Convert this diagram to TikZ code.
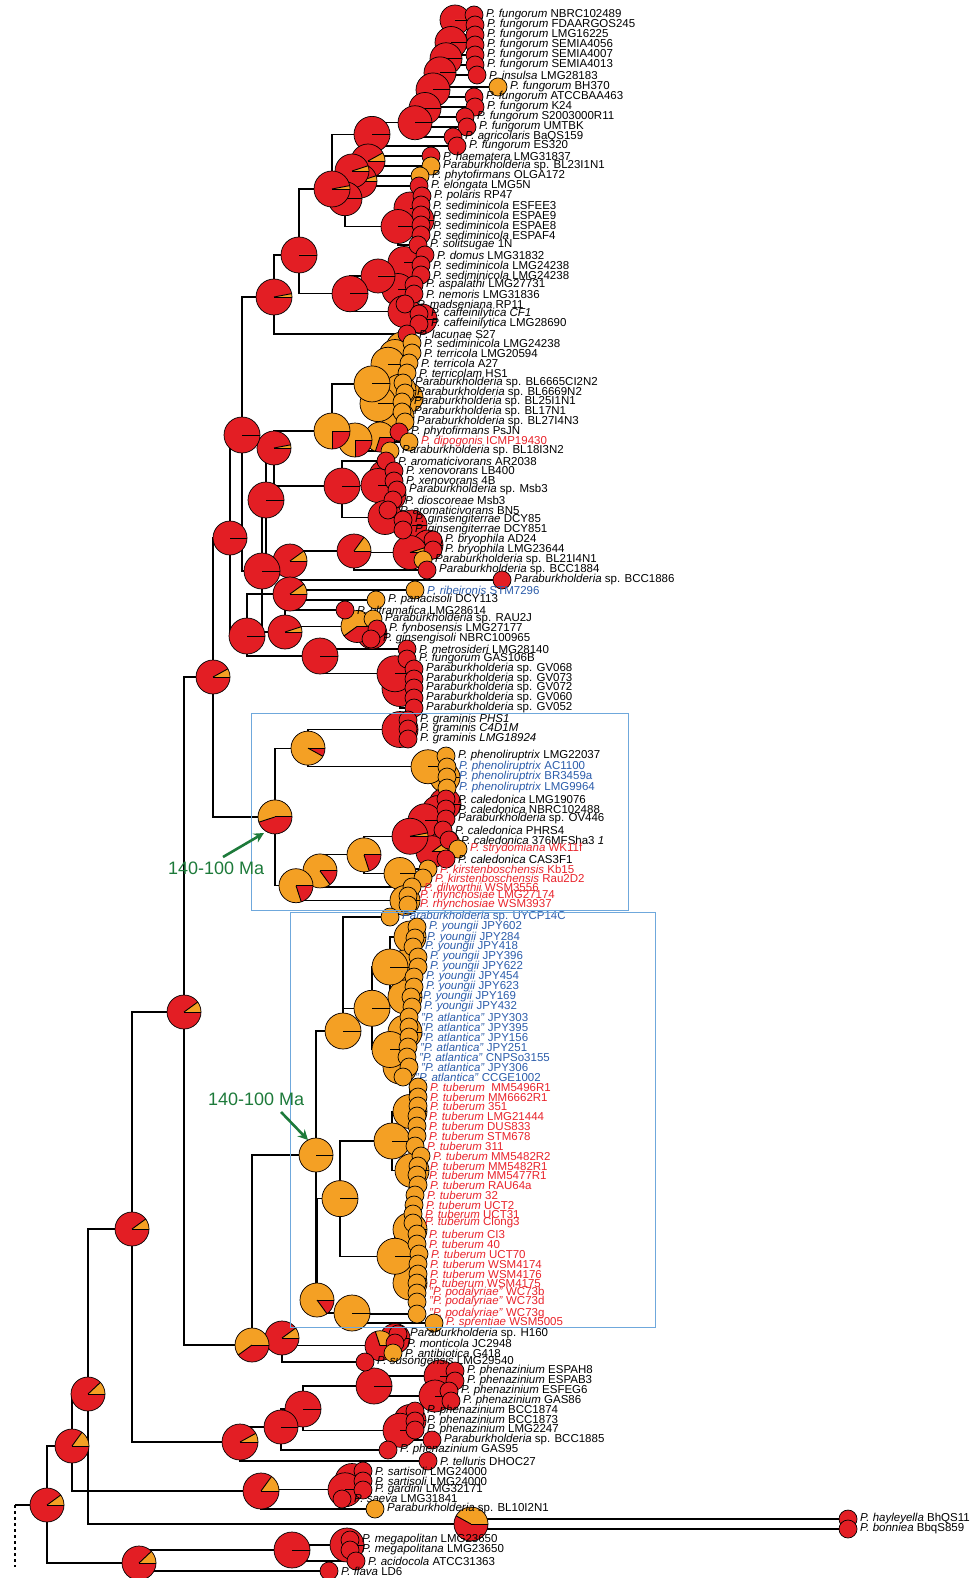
\documentclass[tikz,border=0pt]{standalone}
\usepackage{fontspec}
\setmainfont{Liberation Sans}
\usetikzlibrary{arrows.meta}

\definecolor{pr}{HTML}{E31E24}
\definecolor{po}{HTML}{F4A024}
\definecolor{lk}{HTML}{000000}
\definecolor{lb}{HTML}{2B5CAA}
\definecolor{lr}{HTML}{E8232B}
\definecolor{boxblue}{HTML}{6FA8DC}
\definecolor{agreen}{HTML}{1D7A3A}

\tikzset{
  edge/.style={line width=1.2pt},
  tip/.style={circle, draw, line width=0.7pt, minimum size=18pt, inner sep=0pt},
  lab/.style={anchor=west, inner sep=0pt, font=\fontsize{11.5}{12}\selectfont},
  agetext/.style={anchor=west, inner sep=0pt, text=agreen, font=\fontsize{18}{20}\selectfont},
  agearrow/.style={agreen, line width=2.6pt, -{Stealth[length=10pt,width=10pt]}},
  clade box/.style={draw=boxblue, line width=1pt}
}

% ancestral state pie: name, radius, orange share
\newcommand{\ancpie}[3]{%
  \fill[pr] (#1) circle[radius=#2pt];
  \fill[po] (#1) -- ++(#2pt,0pt) arc[start angle=0, end angle={360*#3}, radius=#2pt] -- cycle;
  \draw[line width=0.9pt] (#1) -- ++(#2pt,0pt);
  \draw[line width=0.9pt] (#1) -- ++({360*#3}:#2pt);
  \draw[line width=0.7pt] (#1) circle[radius=#2pt];
}

% number/y/label x/tip colour/label colour/species/strain
\def\leaflist{
1/15/486/pr/lk/P. fungorum/NBRC102489,
2/25/487/pr/lk/P. fungorum/FDAARGOS245,
3/35/487/pr/lk/P. fungorum/LMG16225,
4/45/487/pr/lk/P. fungorum/SEMIA4056,
5/55/487/pr/lk/P. fungorum/SEMIA4007,
6/65/487/pr/lk/P. fungorum/SEMIA4013,
7/75/489/pr/lk/P. insulsa/LMG28183,
8/87/510/po/lk/P. fungorum/BH370,
9/97/486/pr/lk/P. fungorum/ATCCBAA463,
10/107/487/pr/lk/P. fungorum/K24,
11/117/477/pr/lk/P. fungorum/S2003000R11,
12/127/479/pr/lk/P. fungorum/UMTBK,
13/137/465/pr/lk/P. agricolaris/BaQS159,
14/146/469/pr/lk/P. fungorum/ES320,
15/156/443/pr/lk/P. haematera/LMG31837,
16/166/443/po/lk/Paraburkholderia/sp. BL23I1N1,
17/176/432/po/lk/P. phytofirmans/OLGA172,
18/186/431/pr/lk/P. elongata/LMG5N,
19/196/434/pr/lk/P. polaris/RP47,
20/205/433/pr/lk/P. sediminicola/ESFEE3,
21/215/433/pr/lk/P. sediminicola/ESPAE9,
22/225/433/pr/lk/P. sediminicola/ESPAE8,
23/235/433/pr/lk/P. sediminicola/ESPAF4,
24/245/430/pr/lk/P. solitsugae/1N,
25/255/437/pr/lk/P. domus/LMG31832,
26/265/433/pr/lk/P. sediminicola/LMG24238,
27/275/433/pr/lk/P. sediminicola/LMG24238,
28/285/426/pr/lk/P. aspalathi/LMG27731,
29/294/426/pr/lk/P. nemoris/LMG31836,
30/304/417/pr/lk/P. madseniana/RP11,
31/314/431/pr/lk/P. caffeinilytica CF1/{},
32/324/431/pr/lk/P. caffeinilytica/LMG28690,
33/334/419/pr/lk/P. lacunae/S27,
34/343/424/po/lk/P. sediminicola/LMG24238,
35/353/424/po/lk/P. terricola/LMG20594,
36/363/421/po/lk/P. terricola/A27,
37/373/419/po/lk/P. terricolam/HS1,
38/383/415/po/lk/Paraburkholderia/sp. BL6665CI2N2,
39/393/417/po/lk/Paraburkholderia/sp. BL6669N2,
40/402/414/po/lk/Paraburkholderia/sp. BL25I1N1,
41/412/414/po/lk/Paraburkholderia/sp. BL17N1,
42/422/417/po/lk/Paraburkholderia/sp. BL27I4N3,
43/432/411/pr/lk/P. phytofirmans/PsJN,
44/442/421/po/lr/P. dipogonis/ICMP19430,
45/451/402/po/lk/Paraburkholderia/sp. BL18I3N2,
46/461/398/pr/lk/P. aromaticivorans/AR2038,
47/471/406/pr/lk/P. xenovorans/LB400,
48/481/406/pr/lk/P. xenovorans/4B,
49/490/409/pr/lk/Paraburkholderia/sp. Msb3,
50/500/405/pr/lk/P. dioscoreae/Msb3,
51/510/400/pr/lk/P. aromaticivorans/BN5,
52/520/415/pr/lk/P. ginsengiterrae/DCY85,
53/530/415/pr/lk/P. ginsengiterrae/DCY851,
54/540/445/pr/lk/P. bryophila/AD24,
55/550/445/pr/lk/P. bryophila/LMG23644,
56/560/435/po/lk/Paraburkholderia/sp. BL21I4N1,
57/570/439/pr/lk/Paraburkholderia/sp. BCC1884,
58/580/514/pr/lk/Paraburkholderia/sp. BCC1886,
59/590/427/po/lb/P. ribeironis/STM7296,
60/600/388/po/lk/P. panacisoli/DCY113,
61/610/357/pr/lk/P. ultramafica/LMG28614,
62/619/385/po/lk/Paraburkholderia/sp. RAU2J,
63/629/389/pr/lk/P. fynbosensis/LMG27177,
64/639/383/pr/lk/P. ginsengisoli/NBRC100965,
65/649/419/pr/lk/P. metrosideri/LMG28140,
66/659/419/pr/lk/P. fungorum/GAS106B,
67/669/426/pr/lk/Paraburkholderia/sp. GV068,
68/679/426/pr/lk/Paraburkholderia/sp. GV073,
69/688/426/pr/lk/Paraburkholderia/sp. GV072,
70/698/426/pr/lk/Paraburkholderia/sp. GV060,
71/708/426/pr/lk/Paraburkholderia/sp. GV052,
72/720/420/pr/lk/P. graminis PHS1/{},
73/729/420/pr/lk/P. graminis C4D1M/{},
74/739/420/pr/lk/P. graminis LMG18924/{},
75/756/458/po/lk/P. phenoliruptrix/LMG22037,
76/767/459/po/lb/P. phenoliruptrix/AC1100,
77/777/459/po/lb/P. phenoliruptrix/BR3459a,
78/788/459/po/lb/P. phenoliruptrix/LMG9964,
79/799/458/pr/lk/P. caledonica/LMG19076,
80/809/458/pr/lk/P. caledonica/NBRC102488,
81/819/458/pr/lk/Paraburkholderia/sp. OV446,
82/830/455/pr/lk/P. caledonica/PHRS4,
83/840/461/pr/lk/P. caledonica/{376MFSha3 \textit{1}},
84/849/470/po/lr/P. strydomiana/WK11f,
85/859/458/pr/lk/P. caledonica/CAS3F1,
86/869/440/po/lr/P. kirstenboschensis/Kb15,
87/878/435/po/lr/P. kirstenboschensis/Rau2D2,
88/887/424/po/lr/P. dilworthii/WSM3556,
89/896/420/po/lr/P. rhynchosiae/LMG27174,
90/905/420/po/lr/P. rhynchosiae/WSM3937,
91/917/402/po/lb/Paraburkholderia/sp. UYCP14C,
92/927/429/po/lb/P. youngii/JPY602,
93/938/427/po/lb/P. youngii/JPY284,
94/947/425/po/lb/P. youngii/JPY418,
95/957/430/po/lb/P. youngii/JPY396,
96/967/430/po/lb/P. youngii/JPY622,
97/977/426/po/lb/P. youngii/JPY454,
98/987/426/po/lb/P. youngii/JPY623,
99/997/423/po/lb/P. youngii/JPY169,
100/1007/424/po/lb/P. youngii/JPY432,
101/1017/421/po/lb/"P. atlantica"/JPY303,
102/1027/421/po/lb/"P. atlantica"/JPY395,
103/1037/421/po/lb/"P. atlantica"/JPY156,
104/1047/420/po/lb/"P. atlantica"/JPY251,
105/1057/419/po/lb/"P. atlantica"/CNPSo3155,
106/1067/421/po/lb/"P. atlantica"/JPY306,
107/1077/415/po/lb/"P. atlantica"/CCGE1002,
108/1087/430/po/lr/P. tuberum/{\ MM5496R1},
109/1097/430/po/lr/P. tuberum/MM6662R1,
110/1106/430/po/lr/P. tuberum/351,
111/1116/429/po/lr/P. tuberum/LMG21444,
112/1126/429/po/lr/P. tuberum/DUS833,
113/1136/429/po/lr/P. tuberum/STM678,
114/1146/427/po/lr/P. tuberum/311,
115/1156/433/po/lr/P. tuberum/MM5482R2,
116/1166/430/po/lr/P. tuberum/MM5482R1,
117/1175/429/po/lr/P. tuberum/MM5477R1,
118/1185/430/po/lr/P. tuberum/RAU64a,
119/1195/427/po/lr/P. tuberum/32,
120/1205/426/po/lr/P. tuberum/UCT2,
121/1214/425/po/lr/P. tuberum/UCT31,
122/1223/425/po/lr/P. tuberum/Clong3,
123/1234/429/po/lr/P. tuberum/CI3,
124/1244/429/po/lr/P. tuberum/40,
125/1254/431/po/lr/P. tuberum/UCT70,
126/1264/430/po/lr/P. tuberum/WSM4174,
127/1274/430/po/lr/P. tuberum/WSM4176,
128/1283/429/po/lr/P. tuberum/WSM4175,
129/1293/429/po/lr/"P. podalyriae"/WC73b,
130/1302/429/po/lr/"P. podalyriae"/WC73d,
131/1314/429/po/lr/"P. podalyriae"/WC73g,
132/1323/446/po/lr/P. sprentiae/WSM5005,
133/1334/410/pr/lk/Paraburkholderia/sp. H160,
134/1343/407/pr/lk/P. monticola/JC2948,
135/1353/405/po/lk/P. antibiotica/G418,
136/1362/377/pr/lk/P. susongensis/LMG29540,
137/1371/467/pr/lk/P. phenazinium/ESPAH8,
138/1381/467/pr/lk/P. phenazinium/ESPAB3,
139/1391/461/pr/lk/P. phenazinium/ESFEG6,
140/1401/463/pr/lk/P. phenazinium/GAS86,
141/1411/427/pr/lk/P. phenazinium/BCC1874,
142/1421/427/pr/lk/P. phenazinium/BCC1873,
143/1430/427/pr/lk/P. phenazinium/LMG2247,
144/1440/444/pr/lk/Paraburkholderia/sp. BCC1885,
145/1450/400/pr/lk/P. phenazinium/GAS95,
146/1461/440/pr/lk/P. telluris/DHOC27,
147/1471/375/pr/lk/P. sartisoli/LMG24000,
148/1481/375/pr/lk/P. sartisoli/LMG24000,
149/1490/375/pr/lk/P. gardini/LMG32171,
150/1499/354/pr/lk/P. saeva/LMG31841,
151/1509/387/po/lk/Paraburkholderia/sp. BL10I2N1,
152/1519/860/pr/lk/P. hayleyella/BhQS11,
153/1529/860/pr/lk/P. bonniea/BbqS859,
154/1540/362/pr/lk/P. megapolitan/LMG23650,
155/1550/362/pr/lk/P. megapolitana/LMG23650,
156/1561/368/pr/lk/P. acidocola/ATCC31363,
157/1571/341/pr/lk/P. flava/LD6}

% node/x/first child/last child/radius/orange share/y (0 = halfway)
\def\cladelist{
f1/455/l1/l2/15/0/0, f2/451/f1/l6/16/0/0, f3/446/f2/l7/16/0/0, f4/440/f3/l8/16/0/0,
f5/433/f4/l10/17/0/0, f6/425/f5/l12/16/0/0, f7/415/f6/l13/17/0/0, f8/372/f7/l14/18/0/0,
h1/368/l15/l16/17/.08/0, h2/360/l17/l18/17/.05/0, h3/352/h1/h2/17/.05/0,
s1/418/l20/l23/16/0/0, s2/410/l19/s1/16/0/0, s3/398/s2/l24/17/0/0,
q1/345/h3/s3/17/0/0, g1/332/f8/q1/18/.03/189,
d1/412/l26/l27/15/0/0, d2/404/l25/d1/16/0/0, d3/398/l28/l29/16/0/0, d4/378/d2/d3/17/0/0,
c1/422/l31/l32/15/0/0, c2/404/l30/c1/16/0/0, d5/350/d4/c2/18/0/0,
g2/299/g1/d5/18/0/255, g3/274/g2/l33/18/.03/297,
o1/402/l34/l35/16/1/0, o2/395/o1/l36/16/1/0, o3/388/o2/l37/17/1/0,
o4/408/l39/l40/15/1/0, o5/400/l38/o4/16/1/0, o6/398/l41/l42/16/1/0,
o7/378/o5/o6/18/1/0, o8/372/o3/o7/18/1/0, o9/380/l43/l44/15/.7/0,
o10/355/o9/l45/17/.75/440, o11/332/o8/o10/18/.75/431,
x1/385/l47/l48/16/0/0, x2/390/l49/l50/16/0/0, x3/378/x1/x2/17/0/0,
gi/412/l52/l53/15/0/0, x5/385/l51/gi/17/0/0, x4/342/l46/x5/18/0/486,
k1/274/o11/x4/17/.03/448,
b1/428/l54/l55/15/0/0, b2/410/b1/l56/17/.05/0, b3/354/b2/l57/17/.15/551,
bry/290/b3/l58/17/.1/561, n264/266/k1/bry/18/0/500,
p1/372/l63/l64/15/0/0, p2/357/l62/p1/16/.6/0, p3/285/l61/p2/17/.05/632,
n265/262/n264/p3/18/0/571, m1/242/g3/n265/18/0/435,
p5/290/l59/l60/17/.1/594,
v1/400/l67/l71/18/0/0, v2/395/l66/v1/18/0/0, v3/320/l65/v2/18/0/656,
m2/247/p5/v3/18/0/636, m3/230/m1/m2/17/0/538,
gr1/400/l72/l74/18/0/0, ph1/445/l76/l78/15/1/0, ph2/428/l75/ph1/17/1/0,
bx1/308/gr1/ph2/17/.92/0,
ca1/445/l79/l80/16/0/0, ca2/438/ca1/l81/16/0/0, ca3/425/ca2/l82/17/0/0,
ca4/445/l83/l84/15/.2/0, ca5/432/ca4/l85/16/.1/0, cal/410/ca3/ca5/18/.03/0,
ki1/400/l86/l87/16/1/0, md1/364/cal/ki1/17/.8/0, md2/320/md1/l88/17/.85/0,
rh1/405/l89/l90/15/1/0, bx3/296/md2/rh1/17/.8/0,
bxr/275/bx1/bx3/17/.55/0, fF/213/m3/bxr/17/.08/677,
y1/410/l92/l94/16/1/0, y2/405/l95/l97/17/1/0, y3/405/l98/l100/17/1/0, y4/390/y1/y3/18/1/0,
a1/405/l101/l104/17/1/0, a2/400/l105/l107/17/1/0, a3/390/a1/a2/18/1/0,
ya/372/y4/a3/18/1/0, up/343/l91/ya/18/1/1031,
t1/410/l108/l113/17/1/0, t2/412/l114/l119/17/1/0, t3/410/l120/l125/17/1/0, t4/410/l126/l130/17/1/0,
t5/392/t1/t2/18/1/0, t6/395/t3/t4/18/1/0, t7/340/t5/t6/18/1/0,
sp/352/l131/l132/18/1/1313, low/317/t7/sp/17/.85/1300,
b2r/316/up/low/17/1/1155,
hh1/395/l133/l134/15/0/0, hh2/380/hh1/l135/15/.3/0, hh3/282/hh2/l136/17/.1/1338,
nE/252/b2r/hh3/17/.6/1345, eE/184/fF/nE/17/.1/1012,
pz1/440/l137/l138/16/0/0, pz2/435/l139/l140/16/0/0, pz3/374/pz1/pz2/18/0/0,
pz5/410/l141/l143/16/0/0, pz6/400/pz5/l144/17/0/0, pz7/303/pz3/pz6/18/0/1409,
pz8/281/pz7/l145/17/0/1427, phz/240/pz8/l146/18/.08/1442,
dD/132/eE/phz/17/.1/1229,
sa1/352/l147/l149/17/0/0, sa2/345/sa1/l150/17/0/0, sar/261/sa2/l151/18/.15/1491,
hay/471/l152/l153/17/.42/0, cC/88/dD/hay/17/.12/1394,
bB/72/cC/sar/17/.15/1446,
me1/347/l154/l155/17/0/0, me2/292/me1/l156/18/0/1550, meg/139/me2/l157/17/.12/1563,
aA/47/bB/meg/17/.1/1505}

% extra children of polytomies
\def\midlist{f2/l3, f2/l4, f2/l5, f5/l9, f6/l11, s1/l21, s1/l22, x4/x3,
v1/l68, v1/l69, v1/l70, gr1/l73, ph1/l77, y1/l93, y2/l96, y3/l99, y4/y2,
a1/l102, a1/l103, a2/l106, t1/l109, t1/l110, t1/l111, t1/l112,
t2/l115, t2/l116, t2/l117, t2/l118, t3/l121, t3/l122, t3/l123, t3/l124,
t4/l127, t4/l128, t4/l129, pz5/l142, sa1/l148}

\begin{document}
\begin{tikzpicture}[x=1pt,y=-1pt]
\useasboundingbox (0,0) rectangle (973,1578);

% tip positions
\foreach \nn/\yy/\lx/\tc/\lc/\spc/\stn in \leaflist {
  \coordinate (l\nn) at (\lx-12,\yy);
}

% internal nodes: halfway between first and last child unless y is given
\foreach \cnm/\cxx/\cfa/\cla/\crad/\cfr/\cyy in \cladelist {
  \path (\cfa) -- coordinate[pos=.5] (m\cnm) (\cla);
  \ifdim\cyy pt=0pt
    \coordinate (\cnm) at (\cxx,0 |- m\cnm);
  \else
    \coordinate (\cnm) at (\cxx,\cyy);
  \fi
}

% branches
\foreach \cnm/\cxx/\cfa/\cla/\crad/\cfr/\cyy in \cladelist {
  \draw[edge] (\cnm) |- (\cfa);
  \draw[edge] (\cnm) |- (\cla);
}
\foreach \pnd/\knd in \midlist {
  \draw[edge] (\pnd) |- (\knd);
}

% root
\coordinate (root) at (15,0 |- aA);
\draw[edge] (root) -- (aA);
\draw[edge, dashed] (root) -- ++(0,62);

% ancestral states
\foreach \cnm/\cxx/\cfa/\cla/\crad/\cfr/\cyy in \cladelist {
  \ancpie{\cnm}{\crad}{\cfr}
}

% tips and names
\foreach \nn/\yy/\lx/\tc/\lc/\spc/\stn in \leaflist {
  \node[tip, fill=\tc] (c\nn) at (l\nn) {};
  \node[lab, text=\lc] (n\nn) at (\lx,\yy) {\textit{\spc} \stn};
}

% boxed clades
\draw[clade box] (251,713) rectangle (628,910);
\draw[clade box] (290,912) rectangle (655,1327);

% age labels
\node[agetext] (age1) at (168,868) {140-100 Ma};
\coordinate (age1s) at (223,857);
\coordinate (age1e) at (264,833);
\draw[agearrow] (age1s) -- (age1e);
\node[agetext] (age2) at (208,1099) {140-100 Ma};
\coordinate (age2s) at (281,1112);
\coordinate (age2e) at (308,1140);
\draw[agearrow] (age2s) -- (age2e);
\end{tikzpicture}
\end{document}
